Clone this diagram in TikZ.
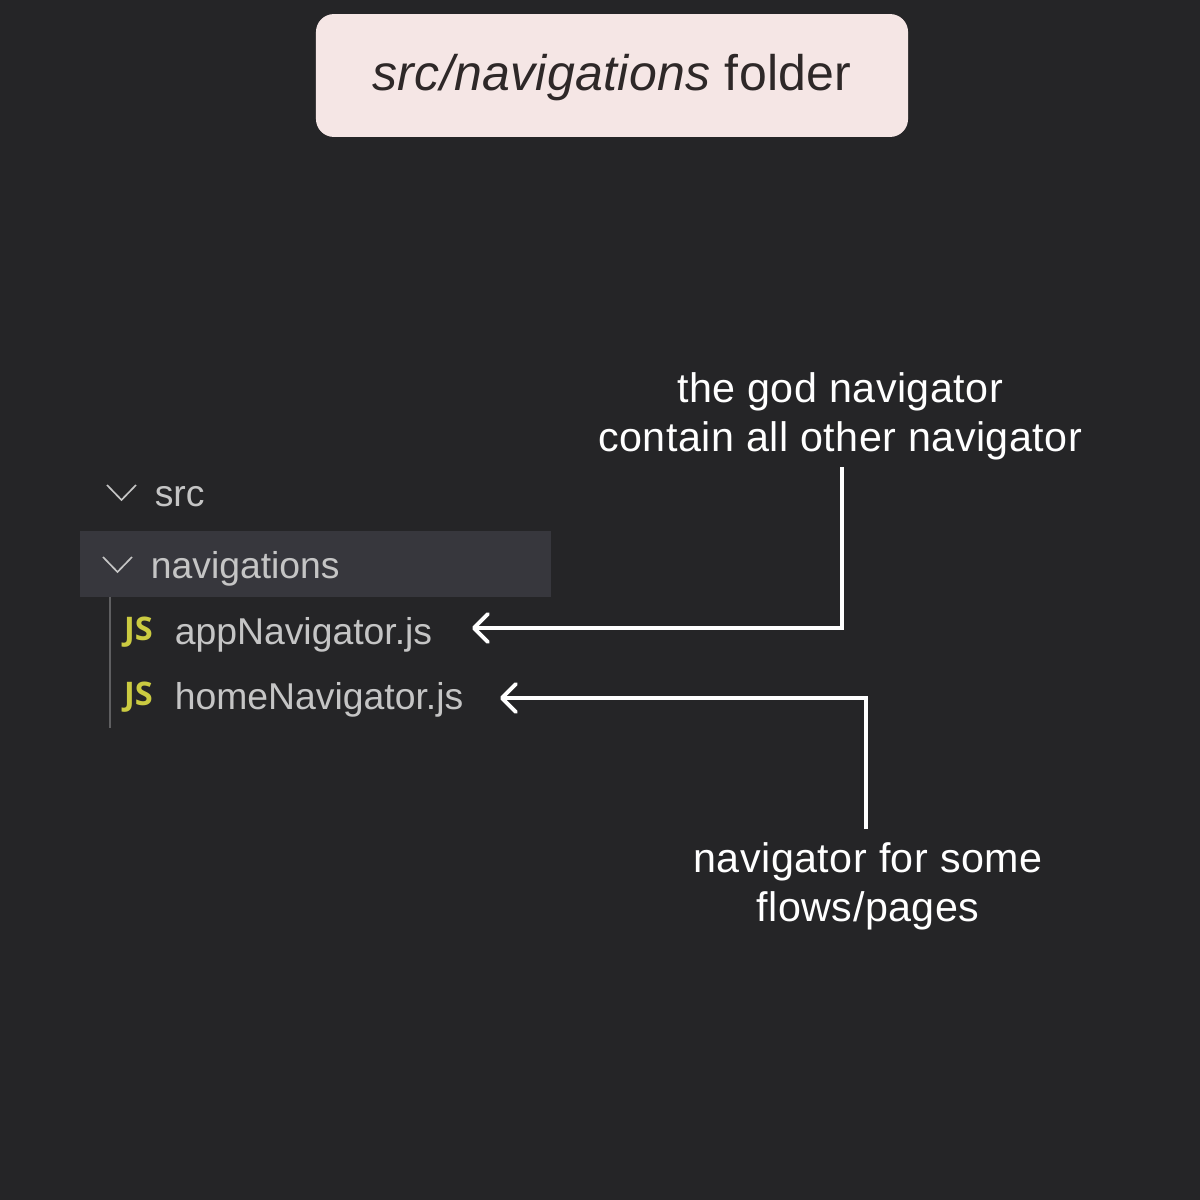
\documentclass[tikz,border=0pt]{standalone}
\usepackage{fontspec}
\setmainfont{Liberation Sans}
\newfontfamily\ui{Liberation Sans}
\newfontfamily\notefont[LetterSpace=1.2]{Liberation Sans}
\newfontfamily\titlefont[LetterSpace=0.6]{Liberation Sans}
\newfontfamily\jsfont{Open Sans}
\definecolor{bgc}{HTML}{252527}
\definecolor{boxc}{HTML}{F5E6E5}
\definecolor{rowc}{HTML}{37373D}
\definecolor{filec}{HTML}{C5C5C5}
\definecolor{guidec}{HTML}{5F5F61}
\definecolor{jsc}{HTML}{CBCB41}
\definecolor{boxtext}{HTML}{2E2828}
\usetikzlibrary{arrows.meta}
\tikzset{px/.style={x=0.24pt,y=-0.24pt},
 note/.style={text=white,font=\notefont\fontsize{9.9pt}{11.76pt}\selectfont,align=center,inner sep=0pt},
 filetext/.style={text=filec,font=\ui\fontsize{8.96pt}{11pt}\selectfont,anchor=west,inner sep=0pt},
 js/.style={text=jsc,font=\jsfont\bfseries\fontsize{7.8pt}{8pt}\selectfont,inner sep=0pt},
 chev/.style={draw=filec,line width=0.4pt},
 conn/.style={draw=white,line width=0.85pt,-{Straight Barb[length=3.4pt,width=6.8pt,line width=0.9pt,round]}}}
\begin{document}
\begin{tikzpicture}[px]
\path[use as bounding box,fill=bgc] (0,0) rectangle (1200,1200);
\node[fill=boxc,rounded corners=4.3pt,minimum width=142.1pt,minimum height=29.5pt,inner sep=0pt,text=boxtext,font=\titlefont\fontsize{12pt}{13pt}\selectfont] (title) at (612,75.5) {\raisebox{-3.7pt}[0pt][0pt]{\textit{src/navigations} folder}};
\fill[rowc] (80,531) rectangle (551,597);
\draw[draw=guidec,line width=0.36pt] (110,597) -- (110,728);
\draw[chev] (107,485) -- (121.5,500) -- (136,485);
\draw[chev] (103,557) -- (117.5,572) -- (132,557);
\node[filetext] (src) at (154,497) {src};
\node[filetext] (nav) at (150,569) {navigations};
\node[js] (js1) at (138.5,632) {JS};
\node[js] (js2) at (138.5,697) {JS};
\node[filetext] (app) at (174,635) {appNavigator.js};
\node[filetext] (home) at (174,700) {homeNavigator.js};
\node[note] (god) at (840,416) {the god navigator\\contain all other navigator};
\node[note] (flows) at (868,886) {navigator for some\\flows/pages};
\coordinate (s1) at (842,467);
\coordinate (b1) at (842,628);
\coordinate (a1) at (472,628);
\coordinate (s2) at (866,829);
\coordinate (b2) at (866,698);
\coordinate (a2) at (500,698);
\draw[conn] (s1) -- (b1) -- (a1);
\draw[conn] (s2) -- (b2) -- (a2);
\end{tikzpicture}
\end{document}
